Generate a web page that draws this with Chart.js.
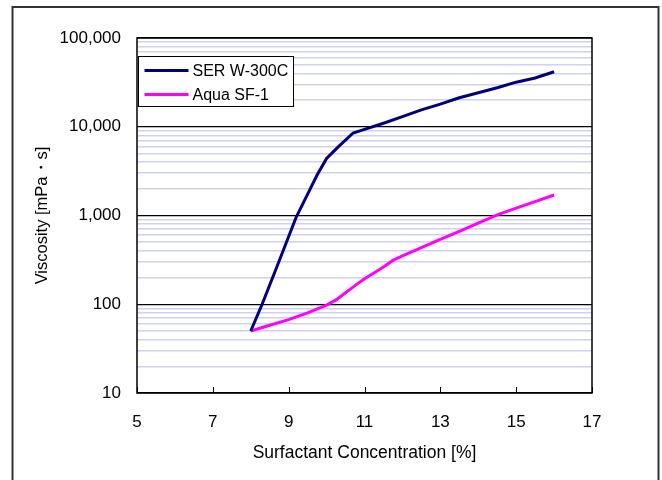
<!DOCTYPE html>
<html>
<head>
<meta charset="utf-8">
<script src="https://cdn.jsdelivr.net/npm/chart.js@4/dist/chart.umd.min.js"></script>
<style>
  html, body { margin: 0; padding: 0; background: #fff; }
  #wrap { width: 662px; height: 480px; }
</style>
</head>
<body>
<div id="wrap"><canvas id="c" width="662" height="480"></canvas></div>
<script>
// ---- data ----
const serLabel = 'SER W-300C';
const serConc = [8, 8.3, 8.7, 9.2, 9.5, 9.75, 10, 10.3, 10.7, 11, 11.5, 12, 12.5, 13, 13.5, 14, 14.5, 15, 15.5, 16];
const serVisc = [50, 100, 272, 960, 1740, 2860, 4400, 5900, 8500, 9350, 10960, 13000, 15500, 18000, 21200, 24200, 27500, 31800, 35400, 41700];

const aquaLabel = 'Aqua SF-1';
const aquaConc = [8, 8.5, 9, 9.5, 10, 10.25, 10.5, 10.75, 11, 11.25, 11.5, 11.75, 12, 12.5, 13, 13.5, 14, 14.5, 15, 15.5, 16];
const aquaVisc = [50, 58, 67, 80, 98, 112, 135, 162, 194, 225, 263, 312, 351, 434, 537, 664, 820, 1015, 1213, 1436, 1702];

const xTickValues = [5, 7, 9, 11, 13, 15, 17];
const yMajorTicks = [10, 100, 1000, 10000, 100000];

const xTitle = 'Surfactant Concentration [%]';
const yTitle = 'Viscosity [mPa\u30FBs]';

const FONT = "'Liberation Sans', Arial, sans-serif";

function toPoints(xs, ys) { return xs.map((x, i) => ({ x: x, y: ys[i] })); }
function isPow10(v) { return yMajorTicks.includes(v); }

// all log grid ticks 1..9 x 10^n
const yAllTicks = [];
for (let e = 1; e <= 4; e++) {
  for (let m = 1; m <= 9; m++) yAllTicks.push(m * Math.pow(10, e));
}
yAllTicks.push(100000);

const framePlugin = {
  id: 'frame',
  beforeDraw(chart) {
    const ctx = chart.ctx;
    ctx.save();
    ctx.fillStyle = '#fff';
    ctx.fillRect(0, 0, chart.width, chart.height);
    ctx.restore();
  },
  afterDraw(chart) {
    const ctx = chart.ctx;
    const a = chart.chartArea;
    ctx.save();
    // outer border
    ctx.strokeStyle = '#333';
    ctx.lineWidth = 2;
    ctx.beginPath();
    ctx.moveTo(12.5, chart.height + 5);
    ctx.lineTo(12.5, 7);
    ctx.lineTo(658.5, 7);
    ctx.lineTo(658.5, chart.height + 5);
    ctx.stroke();
    // plot border
    ctx.strokeStyle = '#000';
    ctx.lineWidth = 1.5;
    ctx.strokeRect(a.left, a.top, a.right - a.left, a.bottom - a.top);
    // inward x ticks
    const xs = chart.scales.x;
    ctx.lineWidth = 1;
    ctx.beginPath();
    xTickValues.forEach(v => {
      const px = Math.round(xs.getPixelForValue(v)) + 0.5;
      ctx.moveTo(px, a.bottom);
      ctx.lineTo(px, a.bottom - 6);
    });
    ctx.stroke();
    // legend
    const bx = a.left + 1.5, by = a.top + 18.5, bw = 155, bh = 50;
    ctx.fillStyle = '#fff';
    ctx.fillRect(bx, by, bw, bh);
    ctx.strokeStyle = '#000';
    ctx.lineWidth = 1;
    ctx.strokeRect(bx, by, bw, bh);
    ctx.font = '16px ' + FONT;
    ctx.textBaseline = 'middle';
    ctx.textAlign = 'left';
    chart.data.datasets.forEach((ds, i) => {
      const y = by + 14 + i * 24;
      ctx.strokeStyle = ds.borderColor;
      ctx.lineWidth = 3;
      ctx.beginPath();
      ctx.moveTo(bx + 6, y);
      ctx.lineTo(bx + 50, y);
      ctx.stroke();
      ctx.fillStyle = '#000';
      ctx.fillText(ds.label, bx + 54, y + 1);
    });
    ctx.restore();
  }
};

new Chart(document.getElementById('c'), {
  type: 'scatter',
  data: {
    datasets: [
      {
        label: serLabel,
        data: toPoints(serConc, serVisc),
        showLine: true,
        borderColor: '#000080',
        backgroundColor: '#000080',
        borderWidth: 3,
        pointRadius: 0,
        tension: 0
      },
      {
        label: aquaLabel,
        data: toPoints(aquaConc, aquaVisc),
        showLine: true,
        borderColor: '#ff00ff',
        backgroundColor: '#ff00ff',
        borderWidth: 3,
        pointRadius: 0,
        tension: 0
      }
    ]
  },
  options: {
    responsive: false,
    animation: false,
    devicePixelRatio: 1,
    layout: { padding: { left: 12, top: 38, right: 70, bottom: 0 } },
    plugins: {
      legend: { display: false },
      tooltip: { enabled: false }
    },
    scales: {
      x: {
        type: 'linear',
        min: 5,
        max: 17,
        afterBuildTicks(scale) { scale.ticks = xTickValues.map(v => ({ value: v })); },
        afterFit(scale) { scale.height = 87; },
        grid: { display: false, drawTicks: false },
        border: { display: false },
        ticks: {
          color: '#000',
          font: { family: FONT, size: 17 },
          padding: 19,
          maxRotation: 0,
          autoSkip: false
        },
        title: {
          display: true,
          text: xTitle,
          color: '#000',
          font: { family: FONT, size: 17.5 },
          padding: { top: 0, bottom: 16 }
        }
      },
      y: {
        type: 'logarithmic',
        min: 10,
        max: 100000,
        afterBuildTicks(scale) { scale.ticks = yAllTicks.map(v => ({ value: v, major: isPow10(v) })); },
        afterFit(scale) { scale.width = 125; },
        grid: {
          drawTicks: false,
          color: (c) => (c.tick && isPow10(c.tick.value)) ? '#000' : '#d0d0f6',
          lineWidth: (c) => (c.tick && isPow10(c.tick.value)) ? 1.2 : 1.5
        },
        border: { display: false },
        ticks: {
          color: '#000',
          font: { family: FONT, size: 17 },
          padding: 16,
          autoSkip: false,
          callback: (v) => isPow10(v) ? Number(v).toLocaleString('en-US') : ''
        },
        title: {
          display: true,
          text: yTitle,
          color: '#000',
          font: { family: FONT, size: 16.5 },
          padding: { top: 21, bottom: 0 }
        }
      }
    }
  },
  plugins: [framePlugin]
});
</script>
</body>
</html>
